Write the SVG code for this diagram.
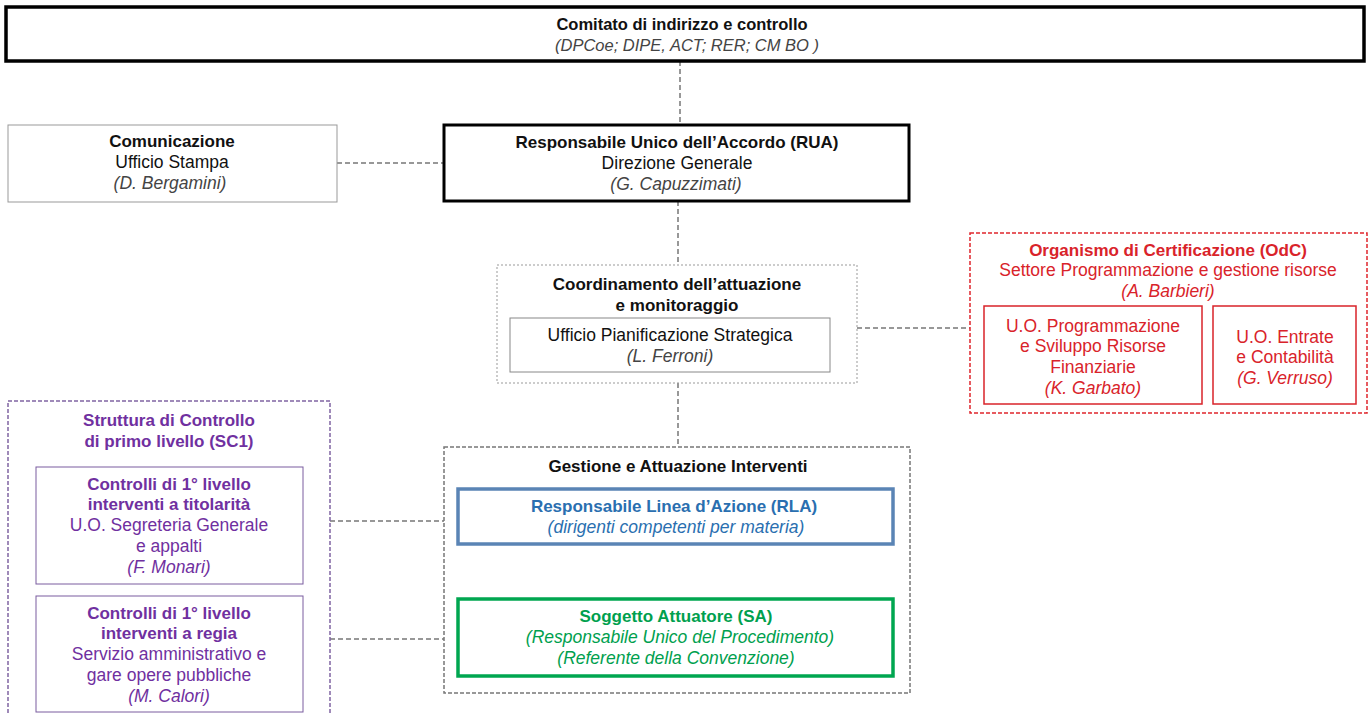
<svg xmlns="http://www.w3.org/2000/svg" width="1370" height="715" viewBox="0 0 1370 715">
<style>
text{font-family:"Liberation Sans",Arial,sans-serif;font-size:17.5px;text-anchor:middle;fill:#111}
.b{font-weight:bold;font-size:17px}
.i{font-style:italic;fill:#444;font-size:17.5px}
.t{font-size:16.5px}
.conn{stroke:#777;stroke-width:1.5;stroke-dasharray:5,3;fill:none}
.red text{fill:#d9232a}
.pur text{fill:#7030a0}
.blue text{fill:#2a6fb0}
.grn text{fill:#00a04e}
</style>
<rect width="1370" height="715" fill="#fff"/>
<g id="connectors">
<line class="conn" x1="680" y1="61" x2="680" y2="125"/>
<line class="conn" x1="337" y1="163" x2="444" y2="163"/>
<line class="conn" x1="678" y1="201" x2="678" y2="265"/>
<line class="conn" x1="857" y1="328" x2="970" y2="328"/>
<line class="conn" x1="678" y1="383" x2="678" y2="447"/>
<line class="conn" x1="330" y1="521" x2="444" y2="521"/>
<line class="conn" x1="330" y1="639" x2="444" y2="639"/>
</g>
<g id="comitato">
<rect x="6" y="7" width="1358" height="54" fill="#fff" stroke="#000" stroke-width="3.5"/>
<text x="682" y="30" class="b t">Comitato di indirizzo e controllo</text>
<text x="687" y="51" class="i t">(DPCoe; DIPE, ACT; RER; CM BO )</text>
</g>
<g id="comunicazione">
<rect x="8" y="125" width="329" height="77" fill="#fff" stroke="#999" stroke-width="1"/>
<text x="172" y="147" class="b">Comunicazione</text>
<text x="172" y="168">Ufficio Stampa</text>
<text x="170" y="189" class="i">(D. Bergamini)</text>
</g>
<g id="rua">
<rect x="444" y="125" width="465" height="76" fill="#fff" stroke="#000" stroke-width="3"/>
<text x="677" y="148" class="b">Responsabile Unico dell’Accordo (RUA)</text>
<text x="677" y="169">Direzione Generale</text>
<text x="676" y="190" class="i">(G. Capuzzimati)</text>
</g>
<g id="coordinamento">
<rect x="497" y="265" width="360" height="118" fill="#fff" stroke="#999" stroke-width="1" stroke-dasharray="2,2"/>
<text x="677" y="290" class="b">Coordinamento dell’attuazione</text>
<text x="677" y="311" class="b">e monitoraggio</text>
<rect x="510" y="318" width="320" height="54" fill="#fff" stroke="#888" stroke-width="1"/>
<text x="670" y="341">Ufficio Pianificazione Strategica</text>
<text x="670" y="362" class="i">(L. Ferroni)</text>
</g>
<g id="odc" class="red">
<rect x="970" y="233" width="397" height="180" fill="#fff" stroke="#e0262c" stroke-width="1.5" stroke-dasharray="4,2"/>
<text x="1168" y="256" class="b">Organismo di Certificazione (OdC)</text>
<text x="1168" y="276">Settore Programmazione e gestione  risorse</text>
<text x="1168" y="297" class="i">(A. Barbieri)</text>
<rect x="984" y="306" width="218" height="98" fill="#fff" stroke="#d9232a" stroke-width="1.5"/>
<text x="1093" y="332">U.O. Programmazione</text>
<text x="1093" y="352">e Sviluppo Risorse</text>
<text x="1093" y="373">Finanziarie</text>
<text x="1093" y="394" class="i">(K. Garbato)</text>
<rect x="1213" y="306" width="143" height="98" fill="#fff" stroke="#d9232a" stroke-width="1.5"/>
<text x="1285" y="343">U.O. Entrate</text>
<text x="1285" y="363">e Contabilità</text>
<text x="1285" y="384" class="i">(G. Verruso)</text>
</g>
<g id="sc1" class="pur">
<rect x="8" y="401" width="322" height="320" fill="#fff" stroke="#8064a2" stroke-width="1.5" stroke-dasharray="4,2"/>
<text x="169" y="426" class="b">Struttura di Controllo</text>
<text x="169" y="447" class="b">di primo livello (SC1)</text>
<rect x="36" y="467" width="267" height="117" fill="#fff" stroke="#7a5c9f" stroke-width="1"/>
<text x="169" y="490" class="b">Controlli di 1° livello</text>
<text x="169" y="510" class="b">interventi a titolarità</text>
<text x="169" y="531">U.O. Segreteria Generale</text>
<text x="169" y="552">e appalti</text>
<text x="169" y="573" class="i">(F. Monari)</text>
<rect x="36" y="596" width="267" height="116" fill="#fff" stroke="#7a5c9f" stroke-width="1"/>
<text x="169" y="619" class="b">Controlli di 1° livello</text>
<text x="169" y="639" class="b">interventi a regia</text>
<text x="169" y="660">Servizio amministrativo e</text>
<text x="169" y="681">gare opere pubbliche</text>
<text x="169" y="702" class="i">(M. Calori)</text>
</g>
<g id="gestione">
<rect x="444" y="447" width="466" height="246" fill="#fff" stroke="#777" stroke-width="1.5" stroke-dasharray="4,2"/>
<text x="678" y="472" class="b">Gestione e Attuazione Interventi</text>
</g>
<g id="rla" class="blue">
<rect x="458" y="489" width="435" height="55" fill="#fff" stroke="#5a84b5" stroke-width="3.5"/>
<text x="674" y="512" class="b">Responsabile Linea d’Azione (RLA)</text>
<text x="676" y="533" class="i">(dirigenti competenti per materia)</text>
</g>
<g id="sa" class="grn">
<rect x="458" y="599" width="435" height="77" fill="#fff" stroke="#00a650" stroke-width="3.5"/>
<text x="676" y="622" class="b">Soggetto Attuatore (SA)</text>
<text x="680" y="643" class="i">(Responsabile Unico del Procedimento)</text>
<text x="676" y="664" class="i">(Referente della Convenzione)</text>
</g>
</svg>
